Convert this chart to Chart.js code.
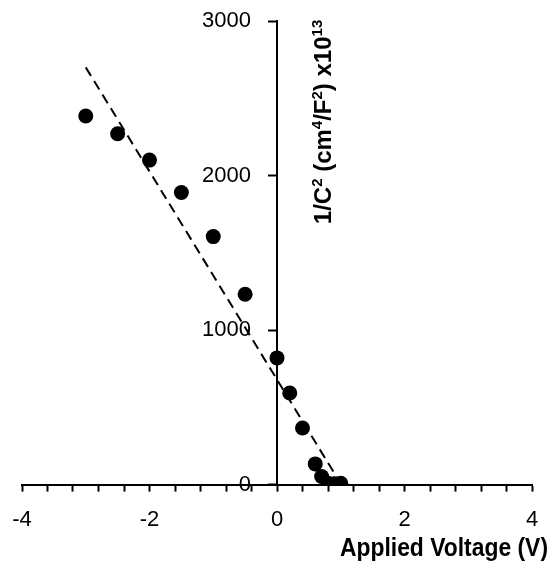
<!DOCTYPE html>
<html lang="en">

<head>
    <meta charset="UTF-8">
    <meta name="viewport" content="width=device-width, initial-scale=1.0">
    <script src="https://cdn.jsdelivr.net/npm/chart.js@4.4.6/dist/chart.umd.min.js"></script>
    <title>Mott-Schottky</title>
    <style>
        html, body { margin: 0; padding: 0; background: #fff; }
        #wrap { width: 551px; height: 565px; }
    </style>
</head>

<body>
    <div id="wrap">
        <canvas id="ms-chart"></canvas>
    </div>

    <script>
        // measured points (V, 1/C^2 x10^13)
        let voltage = [-3, -2.5, -2, -1.5, -1, -0.5, 0, 0.2, 0.4, 0.6, 0.7, 0.8, 0.9, 1.0]
        let invCap2 = [2385, 2270, 2100, 1890, 1605, 1232, 820, 593, 366, 134, 52, 8, 5, 8]

        // dashed linear fit, two ends
        let fitV = [-3, 0.95]
        let fitY = [2700, 40]

        let xTicks = [-4, -2, 0, 2, 4]
        let yTicks = [0, 1000, 2000, 3000]

        let xTitle = "Applied Voltage (V)"
        // [text, superscript?]
        let yTitle = [["1/C", 0], ["2", 1], [" (cm", 0], ["4", 1], ["/F", 0], ["2", 1], [") x10", 0], ["13", 1]]

        const font = '"Liberation Sans", Arial, sans-serif'

        // axis titles drawn by hand: y one has superscripts and sits right of the axis
        const titlesPlugin = {
            id: 'titles',
            afterDraw(chart) {
                const ctx = chart.ctx
                ctx.save()
                ctx.fillStyle = '#000'
                // x title: original face is condensed, squeeze it a bit
                ctx.save()
                ctx.font = 'bold 26px ' + font
                ctx.textAlign = 'right'
                ctx.textBaseline = 'alphabetic'
                ctx.translate(548, 556)
                ctx.scale(0.88, 1)
                ctx.fillText(xTitle, 0, 0)
                ctx.restore()

                const base = 'bold 24px ' + font
                const sup = 'bold 15px ' + font
                let total = 0
                yTitle.forEach(p => {
                    ctx.font = p[1] ? sup : base
                    total += ctx.measureText(p[0]).width
                })
                ctx.translate(331, 122)
                ctx.rotate(-Math.PI / 2)
                ctx.textAlign = 'left'
                let x = -total / 2
                yTitle.forEach(p => {
                    ctx.font = p[1] ? sup : base
                    ctx.fillText(p[0], x, p[1] ? -9 : 0)
                    x += ctx.measureText(p[0]).width
                })
                ctx.restore()
            }
        }

        // stop the tick labels from pushing the plot area inwards,
        // the layout padding below sets it instead
        function noLabelPadding(axis) {
            axis.paddingLeft = 0
            axis.paddingRight = 0
            axis.paddingTop = 0
            axis.paddingBottom = 0
        }

        const ctx = document.getElementById('ms-chart').getContext('2d')

        new Chart(ctx, {
            type: 'scatter',
            data: {
                datasets: [{
                    data: voltage.map((v, i) => ({ x: v, y: invCap2[i] })),
                    backgroundColor: '#000',
                    borderWidth: 0,
                    pointRadius: 7.5,
                    pointHoverRadius: 7.5,
                    order: 0
                }, {
                    type: 'line',
                    data: fitV.map((v, i) => ({ x: v, y: fitY[i] })),
                    borderColor: '#000',
                    borderWidth: 2,
                    borderDash: [10, 6],
                    pointRadius: 0,
                    fill: false,
                    order: 1
                }]
            },
            options: {
                responsive: true,
                maintainAspectRatio: false,
                animation: false,
                layout: {
                    padding: { left: 22, right: 19, top: 21, bottom: 17 }
                },
                scales: {
                    x: {
                        type: 'linear',
                        position: 'bottom',
                        min: -4,
                        max: 4,
                        afterFit: noLabelPadding,
                        grid: {
                            display: true,
                            drawOnChartArea: false,
                            drawTicks: true,
                            tickLength: 7,
                            tickWidth: 2,
                            tickColor: '#000'
                        },
                        border: { display: true, color: '#000', width: 2 },
                        ticks: {
                            stepSize: 0.4,
                            padding: 15,
                            color: '#000',
                            maxRotation: 0,
                            autoSkip: false,
                            font: { family: font, size: 22 },
                            callback: function (v) {
                                let hit = xTicks.find(t => Math.abs(t - v) < 1e-6)
                                return hit === undefined ? '' : String(hit)
                            }
                        }
                    },
                    y: {
                        type: 'linear',
                        // x runs -4..4, so the middle of the plot is x = 0
                        position: 'center',
                        min: 0,
                        max: 3000,
                        afterFit: noLabelPadding,
                        afterBuildTicks: function (axis) {
                            axis.ticks = yTicks.map(v => ({ value: v }))
                        },
                        grid: {
                            display: true,
                            drawOnChartArea: false,
                            drawTicks: true,
                            tickLength: 8,
                            tickWidth: 2,
                            tickColor: '#000'
                        },
                        border: { display: true, color: '#000', width: 2 },
                        ticks: {
                            padding: 18,
                            color: '#000',
                            font: { family: font, size: 22 },
                            callback: v => String(v)
                        }
                    }
                },
                plugins: {
                    legend: { display: false },
                    tooltip: { enabled: false }
                }
            },
            plugins: [titlesPlugin]
        });
    </script>
</body>

</html>
